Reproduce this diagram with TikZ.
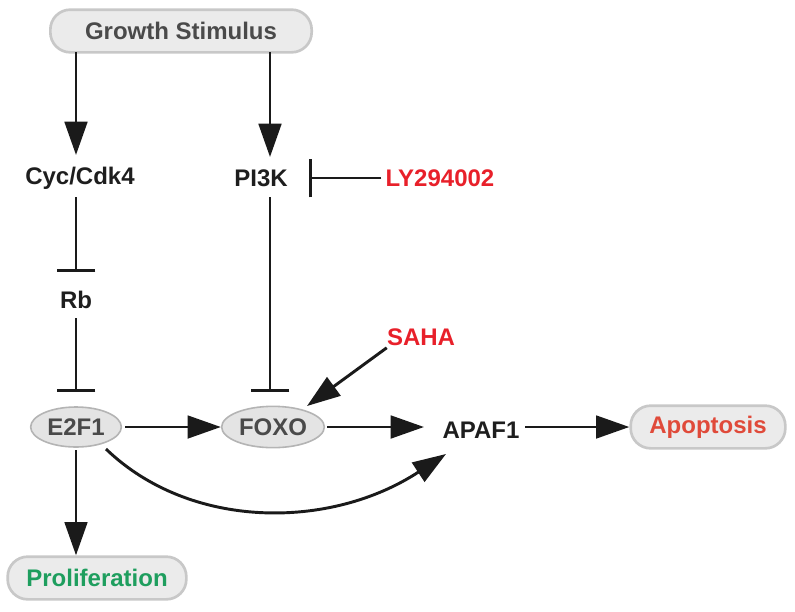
\documentclass[tikz,border=0pt]{standalone}
\usepackage{fontspec}
\setmainfont{Liberation Sans}
\usetikzlibrary{arrows.meta,shapes.geometric}
\definecolor{boxfill}{HTML}{EBEBEB}
\definecolor{boxline}{HTML}{C8C8C8}
\definecolor{ellfill}{HTML}{E4E4E4}
\definecolor{ellline}{HTML}{B4B4B4}
\definecolor{txtdark}{HTML}{1E1E1E}
\definecolor{txtgray}{HTML}{4A4A4A}
\definecolor{drugred}{HTML}{E8202A}
\definecolor{apored}{HTML}{E04A3A}
\definecolor{progreen}{HTML}{1E9E5E}
\definecolor{linecol}{HTML}{1A1A1A}
\tikzset{
  lbl/.style={font=\fontsize{18pt}{20pt}\selectfont\bfseries, text=txtdark, inner sep=0pt},
  termbox/.style={lbl, draw=boxline, fill=boxfill, line width=2pt, rounded corners=15pt, minimum height=32pt},
  ellnode/.style={lbl, ellipse, draw=ellline, fill=ellfill, line width=1.2pt, text=txtgray},
  act/.style={draw=linecol, line width=2.2pt, -{Triangle[length=25pt,width=17pt]}},
  inh/.style={draw=linecol, line width=2.2pt, -{Bar[width=29pt,line width=2.2pt]}},
}
\begin{document}
\begin{tikzpicture}[x=0.75pt,y=-0.75pt]
\useasboundingbox (0,0) rectangle (795,611);
\node[termbox, text=txtgray, minimum width=196pt] (gs) at (181,31) {Growth Stimulus};
\node[lbl] (cyc) at (80,178) {Cyc/Cdk4};
\node[lbl] (pi3k) at (261,178) {PI3K};
\node[lbl, text=drugred] (ly) at (440,178) {LY294002};
\node[lbl] (rb) at (76,300) {Rb};
\node[ellnode, minimum width=68pt, minimum height=30pt] (e2f1) at (76,427) {E2F1};
\node[ellnode, minimum width=77pt, minimum height=31pt] (foxo) at (273,427) {FOXO};
\node[lbl, text=drugred] (saha) at (421,337) {SAHA};
\node[lbl] (apaf) at (481,430) {APAF1};
\node[termbox, text=apored, minimum width=116pt] (apo) at (708,427) {Apoptosis};
\node[termbox, text=progreen, minimum width=134pt] (pro) at (97,578) {Proliferation};

\coordinate (gsL) at (76,52);
\coordinate (gsR) at (270,52);
\coordinate (cycTop) at (76,155);
\coordinate (pi3kTop) at (270,157);
\coordinate (lyEnd) at (309,178);
\coordinate (apafW) at (424,427);
\coordinate (apafE) at (525,427);
\draw[act] (gsL) -- (cycTop);
\draw[act] (gsR) -- (pi3kTop);
\draw[inh] (ly.west) ++(-4,0) -- (lyEnd);
\draw[inh] (76,197) -- (76,272);
\draw[inh] (76,318) -- (76,392);
\draw[inh] (270,197) -- (270,392);
\draw[act] (e2f1.east) ++(3,0) -- (foxo.west);
\draw[act] (saha.south west) ++(0,2) -- (307,406);
\draw[act] (foxo.east) ++(2,0) -- (apafW);
\draw[act] (apafE) -- (apo.west);
\draw[act] (76,450) -- (pro.north -| 76,0);
\draw[act] (106,449) .. controls (190,530) and (330,530) .. (446,454);
\end{tikzpicture}
\end{document}
